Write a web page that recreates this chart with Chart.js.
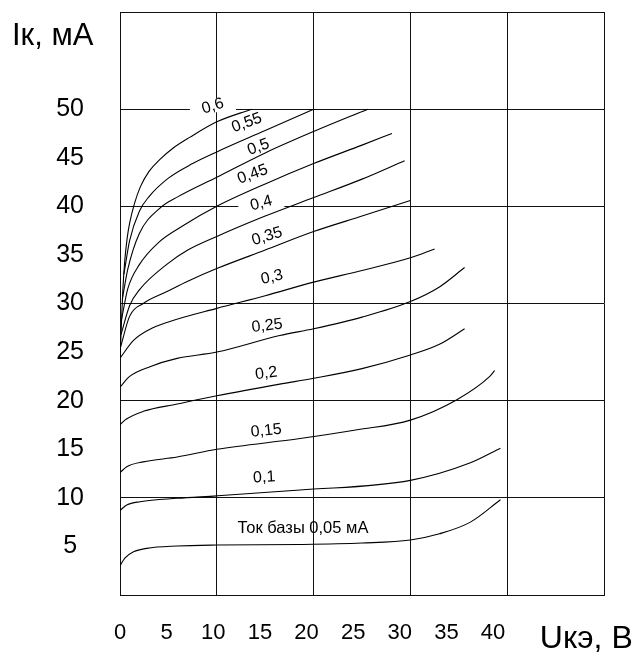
<!DOCTYPE html>
<html>
<head>
<meta charset="utf-8">
<script src="https://cdn.jsdelivr.net/npm/chart.js@4.4.1/dist/chart.umd.min.js"></script>
<style>
  html, body { margin: 0; padding: 0; background: #fff; }
  #wrap { width: 639px; height: 655px; }
</style>
</head>
<body>
<div id="wrap"><canvas id="myChart"></canvas></div>
<script>
// Выходные характеристики: Uкэ (В) -> Iк (мА) при разных токах базы
const baseCurrents = ['0,6', '0,55', '0,5', '0,45', '0,4', '0,35', '0,3', '0,25', '0,2', '0,15', '0,1', '0,05'];

const u060 = [0, 0.15, 0.3, 0.5, 0.75, 1.0, 1.5, 2.1, 3.0, 4.1, 5.5, 7.2, 10, 13.6];
const i060 = [24.2, 28, 31.5, 34.5, 36.8, 38.3, 40.3, 42.0, 43.6, 44.8, 46.0, 47.1, 48.7, 50];
const u055 = [0.4, 1.0, 2.0, 3.0, 5.0, 7.5, 10, 15, 20];
const i055 = [33, 36.5, 39.5, 41.0, 42.9, 44.4, 45.6, 47.8, 50];
const u050 = [0.25, 0.8, 2.0, 4.1, 6.0, 10, 15, 20, 25.6];
const i050 = [30.5, 33.5, 37.2, 39.8, 41.0, 43.0, 45.5, 47.7, 50];
const u045 = [0.15, 0.8, 2.0, 4.0, 6.5, 10, 15, 20, 25, 28.1];
const i045 = [28.3, 31.5, 34.0, 36.3, 38.0, 40.0, 42.3, 44.4, 46.3, 47.5];
const u040 = [0.1, 1.0, 2.0, 4.8, 7.0, 10, 15, 20, 25, 29.4];
const i040 = [26.8, 29.8, 31.4, 34.0, 35.5, 36.9, 39.0, 40.9, 42.8, 44.7];
const u035 = [0.05, 1.0, 2.4, 4.8, 7.0, 10, 15, 20, 25, 30];
const i035 = [25.5, 28.7, 30.0, 31.2, 32.3, 33.6, 35.5, 37.4, 39.0, 40.6];
const u030 = [0.02, 1.4, 3.0, 5.0, 10, 15, 20, 25, 30, 32.5];
const i030 = [24.4, 26.2, 27.3, 28.1, 29.5, 30.8, 32.2, 33.4, 34.7, 35.6];
const u025 = [0, 1.0, 3.1, 5.9, 10, 16.5, 20, 25, 30, 33, 35.6];
const i025 = [21.4, 22.5, 23.5, 24.35, 25.0, 26.7, 27.4, 28.6, 30.2, 31.7, 33.7];
const u020 = [0, 0.5, 2.4, 5.9, 10, 16.5, 20, 25, 30, 33, 35.6];
const i020 = [17.5, 18.0, 18.9, 19.65, 20.5, 21.7, 22.3, 23.3, 24.7, 25.8, 27.4];
const u015 = [0, 0.7, 2.4, 5.9, 10, 18.6, 24.5, 30, 34.8, 38.2, 38.7];
const i015 = [12.6, 13.2, 13.7, 14.2, 15.0, 16.1, 17.0, 18.0, 20.1, 22.5, 23.1];
const u010 = [0, 0.7, 2.07, 5.9, 10, 18.6, 30, 36.2, 39.3];
const i010 = [8.7, 9.26, 9.6, 9.95, 10.2, 10.8, 11.8, 13.6, 15.1];
const u005 = [0, 0.5, 1.4, 2.75, 5.9, 10, 18.6, 25, 30, 33, 36.2, 39.3];
const i005 = [3.0, 3.8, 4.45, 4.8, 5.04, 5.14, 5.2, 5.35, 5.66, 6.3, 7.5, 9.8];

const curvesU = [u060, u055, u050, u045, u040, u035, u030, u025, u020, u015, u010, u005];
const curvesI = [i060, i055, i050, i045, i040, i035, i030, i025, i020, i015, i010, i005];

const xTickLabels = [0, 5, 10, 15, 20, 25, 30, 35, 40];
const yTickLabels = [5, 10, 15, 20, 25, 30, 35, 40, 45, 50];
const xTitle = 'Uкэ, В';
const yTitle = 'Iк, мА';

const FONT = '"Liberation Sans", Arial, sans-serif';

// подписи кривых (в координатах графика)
const curveNotes = [
  { text: '0,6',  x: 9.6,  y: 50.3, angle: -17, clear: true },
  { text: '0,55', x: 13.1, y: 48.6, angle: -20 },
  { text: '0,5',  x: 14.3, y: 46.1, angle: -20 },
  { text: '0,45', x: 13.7, y: 43.3, angle: -20 },
  { text: '0,4',  x: 14.6, y: 40.3, angle: -15, clear: true },
  { text: '0,35', x: 15.2, y: 36.9, angle: -17 },
  { text: '0,3',  x: 15.7, y: 32.7, angle: -12 },
  { text: '0,25', x: 15.2, y: 27.7, angle: -7 },
  { text: '0,2',  x: 15.1, y: 22.8, angle: -7 },
  { text: '0,15', x: 15.1, y: 16.9, angle: -6 },
  { text: '0,1',  x: 14.9, y: 12.1, angle: -3 },
  { text: 'Ток базы 0,05 мА', x: 18.9, y: 6.9, angle: 0, size: 16.5 }
];

const notesPlugin = {
  id: 'notes',
  beforeDatasetsDraw(chart) {
    const { ctx, scales: { x, y } } = chart;
    ctx.save();
    ctx.fillStyle = '#fff';
    curveNotes.filter(n => n.clear).forEach(n => {
      const px = x.getPixelForValue(n.x);
      const py = y.getPixelForValue(n.y);
      ctx.fillRect(px - 23, py - 8, 46, 14);
    });
    ctx.restore();
  },
  afterDatasetsDraw(chart) {
    const { ctx, scales: { x, y }, chartArea } = chart;
    ctx.save();
    ctx.fillStyle = '#000';
    ctx.textAlign = 'center';
    ctx.textBaseline = 'middle';
    curveNotes.forEach(n => {
      const px = x.getPixelForValue(n.x);
      const py = y.getPixelForValue(n.y);
      ctx.save();
      ctx.translate(px, py);
      ctx.rotate(n.angle * Math.PI / 180);
      ctx.font = (n.size || 16) + 'px ' + FONT;
      ctx.fillText(n.text, 0, 0);
      ctx.restore();
    });
    // подпись оси Y
    ctx.font = '31px ' + FONT;
    ctx.textAlign = 'left';
    ctx.fillText(yTitle, chartArea.left - 108, chartArea.top + 24);
    ctx.restore();
  }
};

const ctx = document.getElementById('myChart');

new Chart(ctx, {
  type: 'line',
  data: {
    datasets: curvesU.map((us, k) => ({
      label: baseCurrents[k],
      data: us.map((u, j) => ({ x: u, y: curvesI[k][j] })),
      borderColor: '#000',
      borderWidth: 1.1,
      pointRadius: 0,
      fill: false,
      cubicInterpolationMode: 'monotone'
    }))
  },
  options: {
    responsive: true,
    maintainAspectRatio: false,
    animation: false,
    layout: { padding: { left: 0, right: 35, top: 12, bottom: 0 } },
    plugins: { legend: { display: false }, tooltip: { enabled: false } },
    scales: {
      x: {
        type: 'linear',
        position: 'bottom',
        min: 0,
        max: 50,
        ticks: { stepSize: 10, display: false },
        grid: { color: '#111', lineWidth: 1, drawTicks: false },
        border: { color: '#111' }
      },
      xLabels: {
        type: 'linear',
        position: 'bottom',
        min: 0,
        max: 51.9,
        afterFit: s => {
          s.height = 60;
          s.paddingLeft = 0;
          s.paddingRight = 0;
        },
        afterBuildTicks: s => {
          s.ticks = xTickLabels.concat([50]).map(v => ({ value: v }));
        },
        ticks: {
          autoSkip: false,
          maxRotation: 0,
          includeBounds: false,
          padding: 25,
          color: '#000',
          callback: v => (xTickLabels.includes(v) ? String(v) : (v === 50 ? xTitle : '')),
          font: c => ({ family: FONT, size: c.tick && c.tick.value === 50 ? 32 : 22 })
        },
        grid: { display: false, drawTicks: false },
        border: { display: false }
      },
      y: {
        min: 0,
        max: 60,
        afterFit: s => {
          s.width = 120;
          s.paddingTop = 0;
          s.paddingBottom = 0;
        },
        afterBuildTicks: s => {
          s.ticks = [0, 10, 20, 30, 40, 50, 60].concat(yTickLabels.filter(v => v % 10)).map(v => ({ value: v }));
        },
        ticks: {
          autoSkip: false,
          padding: 36,
          crossAlign: 'center',
          color: '#000',
          font: { family: FONT, size: 25 },
          callback: v => (yTickLabels.includes(v) ? String(v) : '')
        },
        grid: {
          color: c => (c.tick && c.tick.value % 10 === 0 ? '#111' : 'rgba(0,0,0,0)'),
          lineWidth: 1,
          drawTicks: false
        },
        border: { color: '#111' }
      }
    }
  },
  plugins: [notesPlugin]
});
</script>
</body>
</html>
